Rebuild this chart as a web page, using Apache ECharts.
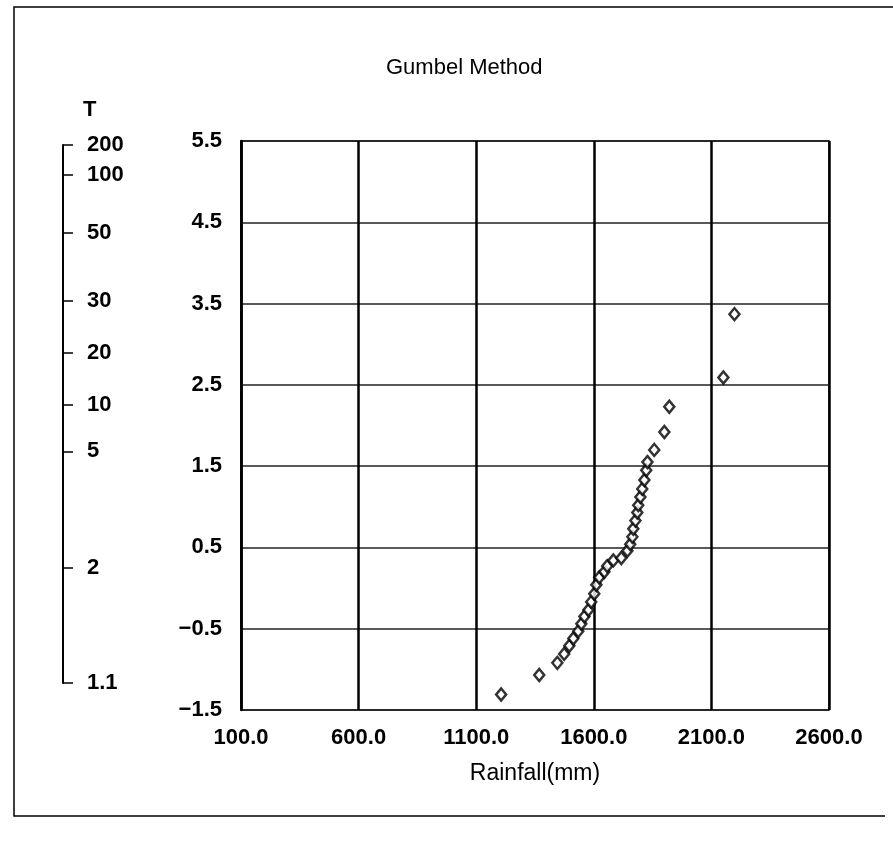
<!DOCTYPE html>
<html>
<head>
<meta charset="utf-8">
<title>Gumbel Method</title>
<script src="https://cdn.jsdelivr.net/npm/echarts@6/dist/echarts.min.js"></script>
<style>
  html, body { margin: 0; padding: 0; background: #fff; }
  #chart { width: 893px; height: 844px; }
</style>
</head>
<body>
<div id="chart"></div>
<script>
// Annual maximum rainfall (mm), sorted ascending
var rainfall = [
  1206, 1368, 1445, 1474, 1496, 1513, 1534, 1547, 1560, 1577,
  1589, 1602, 1611, 1623, 1645, 1657, 1683, 1717, 1743, 1755,
  1764, 1768, 1777, 1785, 1789, 1798, 1806, 1815, 1823, 1828,
  1857, 1900, 1921, 2151, 2198
];
// Gumbel reduced variate of each plotted value
var reducedVariate = [
  -1.31, -1.07, -0.92, -0.81, -0.71, -0.62, -0.53, -0.44, -0.35, -0.27,
  -0.17, -0.07, 0.04, 0.13, 0.20, 0.27, 0.34, 0.37, 0.46, 0.54,
  0.63, 0.73, 0.83, 0.93, 1.02, 1.12, 1.22, 1.33, 1.45, 1.55,
  1.70, 1.92, 2.23, 2.59, 3.37
];

// Main axes
var xTicks = [100, 600, 1100, 1600, 2100, 2600];
var yTicks = [-1.5, -0.5, 0.5, 1.5, 2.5, 3.5, 4.5, 5.5];

// Return-period scale (T) and the reduced variate at which each mark sits
var returnPeriods = ['200', '100', '50', '30', '20', '10', '5', '2', '1.1'];
var returnVariate = [5.45, 5.08, 4.37, 3.53, 2.89, 2.25, 1.68, 0.25, -1.17];

var points = rainfall.map(function (x, i) { return [x, reducedVariate[i]]; });

var font = '"Liberation Sans", Arial, sans-serif';
var tickFont = { fontFamily: font, fontSize: 22, fontWeight: 'bold', color: '#000' };

var chart = echarts.init(document.getElementById('chart'), null, { renderer: 'canvas' });

chart.setOption({
  backgroundColor: '#fff',
  animation: false,
  title: {
    text: 'Gumbel Method',
    left: 381,
    top: 52,
    textStyle: { fontFamily: font, fontSize: 22, fontWeight: 'normal', color: '#000' }
  },
  graphic: [
    {
      type: 'polyline',
      silent: true,
      shape: { points: [[893, 7], [14, 7], [14, 816], [885, 816]] },
      style: { stroke: '#000', lineWidth: 1.5, fill: null }
    }
  ],
  grid: [
    { left: 241, right: 64, top: 141, bottom: 134, show: true,
      borderColor: '#000', borderWidth: 1.5, backgroundColor: 'transparent' },
    { left: 63, width: 10, top: 145, bottom: 161, show: false }
  ],
  xAxis: [
    {
      gridIndex: 0,
      type: 'value',
      min: xTicks[0],
      max: xTicks[xTicks.length - 1],
      interval: 500,
      name: 'Rainfall(mm)',
      nameLocation: 'middle',
      nameGap: 52,
      nameTextStyle: { fontFamily: font, fontSize: 23, color: '#000' },
      axisLine: { show: false },
      axisTick: { show: false },
      axisLabel: Object.assign({ margin: 17, formatter: function (v) { return v.toFixed(1); } }, tickFont),
      splitLine: { show: true, lineStyle: { color: '#000', width: 2.5 } }
    },
    { gridIndex: 1, type: 'value', show: false, min: 0, max: 1 }
  ],
  yAxis: [
    {
      gridIndex: 0,
      type: 'value',
      min: yTicks[0],
      max: yTicks[yTicks.length - 1],
      interval: 1,
      axisLine: { show: true, lineStyle: { color: '#000', width: 2.5 } },
      axisTick: { show: false },
      axisLabel: Object.assign({ margin: 19, formatter: function (v) {
        return v < 0 ? '\u2212' + Math.abs(v).toFixed(1) : v.toFixed(1);
      } }, tickFont),
      splitLine: { show: true, lineStyle: { color: '#222', width: 1.5 } }
    },
    {
      gridIndex: 1,
      type: 'value',
      position: 'left',
      min: returnVariate[returnVariate.length - 1],
      max: returnVariate[0],
      name: 'T',
      nameLocation: 'end',
      nameGap: 24,
      nameTextStyle: { fontFamily: font, fontSize: 22, fontWeight: 'bold', color: '#000',
        align: 'left', padding: [0, 0, 0, 20] },
      axisLine: { show: true, lineStyle: { color: '#000', width: 2 } },
      axisTick: { show: true, inside: true, length: 10, customValues: returnVariate,
        lineStyle: { color: '#000', width: 1.5 } },
      axisLabel: Object.assign({
        inside: true,
        margin: 24,
        customValues: returnVariate,
        formatter: function (v) {
          for (var i = 0; i < returnVariate.length; i++) {
            if (Math.abs(returnVariate[i] - v) < 1e-6) return returnPeriods[i];
          }
          return '';
        }
      }, tickFont),
      splitLine: { show: false }
    }
  ],
  series: [
    {
      type: 'scatter',
      xAxisIndex: 0,
      yAxisIndex: 0,
      data: points,
      symbol: 'diamond',
      symbolSize: [10, 12],
      itemStyle: { color: '#fff', borderColor: '#000', borderWidth: 2.5 },
      z: 5
    }
  ]
});
</script>
</body>
</html>
